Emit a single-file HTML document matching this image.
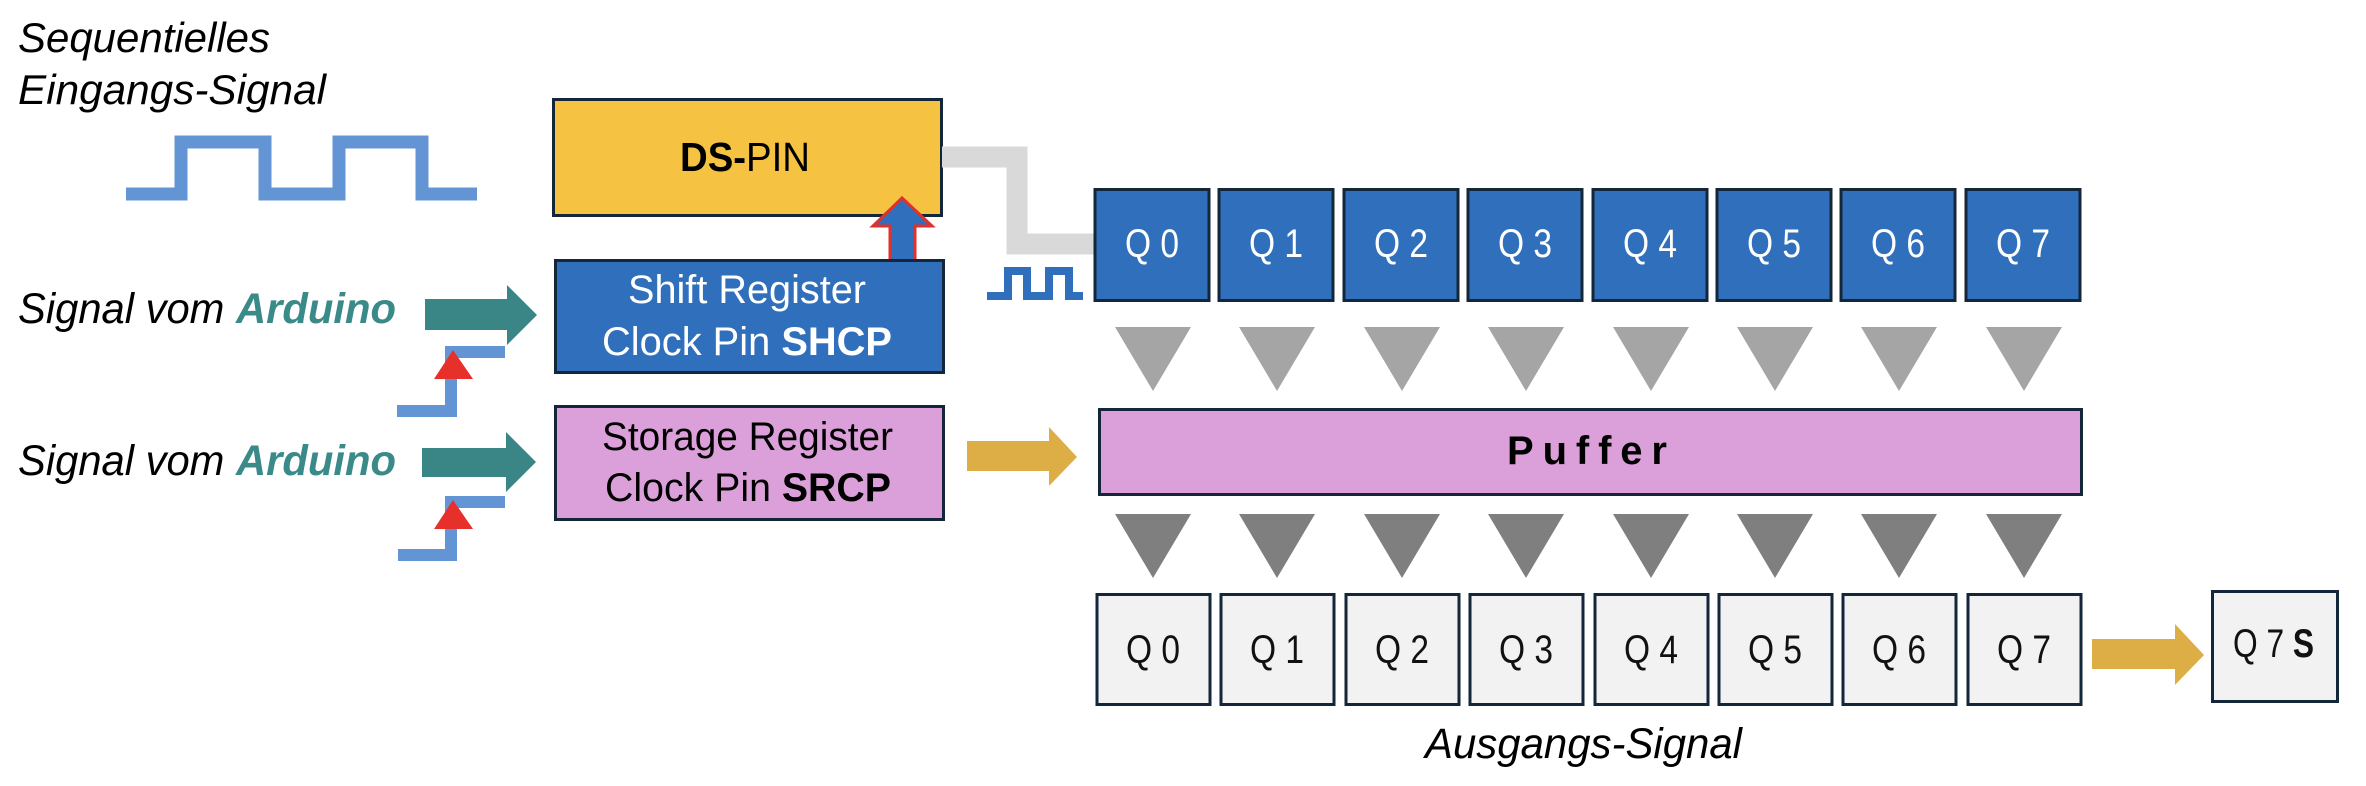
<!DOCTYPE html>
<html><head><meta charset="utf-8"><style>
html,body{margin:0;padding:0;background:#fff;}
svg{display:block;}
text{font-family:"Liberation Sans",sans-serif;}
</style></head><body>
<svg width="2366" height="786" viewBox="0 0 2366 786" xmlns="http://www.w3.org/2000/svg">
<text x="18" y="52" font-size="42" font-style="italic" textLength="252" lengthAdjust="spacingAndGlyphs">Sequentielles</text>
<text x="18" y="104" font-size="42" font-style="italic" textLength="308" lengthAdjust="spacingAndGlyphs">Eingangs-Signal</text>
<polyline points="126,194 181,194 181,142 265,142 265,194 339,194 339,142 422,142 422,194 477,194" fill="none" stroke="#6395d5" stroke-width="13"/>
<rect x="553.5" y="99.5" width="388" height="116" fill="#f5c242" stroke="#14263a" stroke-width="3"/>
<text x="680" y="171" font-size="41" textLength="130" lengthAdjust="spacingAndGlyphs"><tspan font-weight="bold">DS-</tspan>PIN</text>
<polyline points="942,157 1017,157 1017,244 1094,244" fill="none" stroke="#d9d9d9" stroke-width="21"/>
<polyline points="987,296 1008,296 1008,271 1027,271 1027,296 1049,296 1049,271 1069,271 1069,296 1083,296" fill="none" stroke="#2f6fbb" stroke-width="8"/>
<polygon points="902,198 932,226 915,226 915,261 890,261 890,226 873,226" fill="#2f6fbb" stroke="#e2302a" stroke-width="3"/>
<rect x="555.5" y="260.5" width="388" height="112" fill="#2f6fbb" stroke="#14263a" stroke-width="3"/>
<text x="628" y="303" font-size="40" fill="#fff" textLength="238" lengthAdjust="spacingAndGlyphs">Shift Register</text>
<text x="602" y="355" font-size="40" fill="#fff" textLength="290" lengthAdjust="spacingAndGlyphs">Clock Pin <tspan font-weight="bold">SHCP</tspan></text>
<rect x="555.5" y="406.5" width="388" height="113" fill="#dba0da" stroke="#14263a" stroke-width="3"/>
<text x="602" y="450" font-size="40" textLength="291" lengthAdjust="spacingAndGlyphs">Storage Register</text>
<text x="605" y="501" font-size="40" textLength="286" lengthAdjust="spacingAndGlyphs">Clock Pin <tspan font-weight="bold">SRCP</tspan></text>
<text x="18" y="323" font-size="43" font-style="italic" textLength="378" lengthAdjust="spacingAndGlyphs">Signal vom <tspan font-weight="bold" fill="#3a8a8a">Arduino</tspan></text>
<text x="18" y="475" font-size="43" font-style="italic" textLength="378" lengthAdjust="spacingAndGlyphs">Signal vom <tspan font-weight="bold" fill="#3a8a8a">Arduino</tspan></text>
<polygon points="425,299 507,299 507,285 537,315 507,345 507,330 425,330" fill="#3a8585"/>
<polygon points="422,448 506,448 506,432 536,462 506,492 506,477 422,477" fill="#3a8585"/>
<polyline points="397,411 451,411 451,352 505,352" fill="none" stroke="#6395d5" stroke-width="12"/>
<polygon points="453,350 473,379 434,379" fill="#e8302a"/>
<polyline points="398,555 451,555 451,502 505,502" fill="none" stroke="#6395d5" stroke-width="12"/>
<polygon points="453,500 473,529 434,529" fill="#e8302a"/>
<polygon points="967,441 1049,441 1049,427 1077,457 1049,486 1049,471 967,471" fill="#dcae45"/>
<g stroke="#14263a" stroke-width="3" fill="#2f6fbb">
<rect x="1095" y="189.5" width="114" height="111"/>
<rect x="1219" y="189.5" width="114" height="111"/>
<rect x="1344" y="189.5" width="114" height="111"/>
<rect x="1468" y="189.5" width="114" height="111"/>
<rect x="1593" y="189.5" width="114" height="111"/>
<rect x="1717" y="189.5" width="114" height="111"/>
<rect x="1841" y="189.5" width="114" height="111"/>
<rect x="1966" y="189.5" width="114" height="111"/>
</g>
<g font-size="40" fill="#fff">
<text x="1125" y="257" textLength="54" lengthAdjust="spacingAndGlyphs">Q 0</text><text x="1249" y="257" textLength="54" lengthAdjust="spacingAndGlyphs">Q 1</text><text x="1374" y="257" textLength="54" lengthAdjust="spacingAndGlyphs">Q 2</text><text x="1498" y="257" textLength="54" lengthAdjust="spacingAndGlyphs">Q 3</text>
<text x="1623" y="257" textLength="54" lengthAdjust="spacingAndGlyphs">Q 4</text><text x="1747" y="257" textLength="54" lengthAdjust="spacingAndGlyphs">Q 5</text><text x="1871" y="257" textLength="54" lengthAdjust="spacingAndGlyphs">Q 6</text><text x="1996" y="257" textLength="54" lengthAdjust="spacingAndGlyphs">Q 7</text>
</g>
<g fill="#a5a5a5">
<polygon points="1115,327 1191,327 1153,391"/><polygon points="1239,327 1315,327 1277,391"/>
<polygon points="1364,327 1440,327 1402,391"/><polygon points="1488,327 1564,327 1526,391"/>
<polygon points="1613,327 1689,327 1651,391"/><polygon points="1737,327 1813,327 1775,391"/>
<polygon points="1861,327 1937,327 1899,391"/><polygon points="1986,327 2062,327 2024,391"/>
</g>
<rect x="1099.5" y="409.5" width="982" height="85" fill="#dba0da" stroke="#14263a" stroke-width="3"/>
<text x="1507" y="464" font-size="40" font-weight="bold" textLength="160" lengthAdjust="spacing">Puffer</text>
<g fill="#7f7f7f">
<polygon points="1115,514 1191,514 1153,578"/><polygon points="1239,514 1315,514 1277,578"/>
<polygon points="1364,514 1440,514 1402,578"/><polygon points="1488,514 1564,514 1526,578"/>
<polygon points="1613,514 1689,514 1651,578"/><polygon points="1737,514 1813,514 1775,578"/>
<polygon points="1861,514 1937,514 1899,578"/><polygon points="1986,514 2062,514 2024,578"/>
</g>
<g stroke="#14263a" stroke-width="3" fill="#f2f2f2">
<rect x="1097" y="594.5" width="113" height="110"/>
<rect x="1221" y="594.5" width="113" height="110"/>
<rect x="1346" y="594.5" width="113" height="110"/>
<rect x="1470" y="594.5" width="113" height="110"/>
<rect x="1595" y="594.5" width="113" height="110"/>
<rect x="1719" y="594.5" width="113" height="110"/>
<rect x="1843" y="594.5" width="113" height="110"/>
<rect x="1968" y="594.5" width="113" height="110"/>
</g>
<g font-size="40" fill="#111">
<text x="1126" y="663" textLength="54" lengthAdjust="spacingAndGlyphs">Q 0</text><text x="1250" y="663" textLength="54" lengthAdjust="spacingAndGlyphs">Q 1</text><text x="1375" y="663" textLength="54" lengthAdjust="spacingAndGlyphs">Q 2</text><text x="1499" y="663" textLength="54" lengthAdjust="spacingAndGlyphs">Q 3</text>
<text x="1624" y="663" textLength="54" lengthAdjust="spacingAndGlyphs">Q 4</text><text x="1748" y="663" textLength="54" lengthAdjust="spacingAndGlyphs">Q 5</text><text x="1872" y="663" textLength="54" lengthAdjust="spacingAndGlyphs">Q 6</text><text x="1997" y="663" textLength="54" lengthAdjust="spacingAndGlyphs">Q 7</text>
</g>
<polygon points="2092,639 2175,639 2175,624 2204,655 2175,685 2175,669 2092,669" fill="#dcae45"/>
<rect x="2212.5" y="591.5" width="125" height="110" fill="#f2f2f2" stroke="#14263a" stroke-width="3"/>
<text x="2233" y="657" font-size="40" fill="#111" textLength="81" lengthAdjust="spacingAndGlyphs">Q 7 <tspan font-weight="bold">S</tspan></text>
<text x="1425" y="758" font-size="43" font-style="italic" textLength="317" lengthAdjust="spacingAndGlyphs">Ausgangs-Signal</text>
</svg>
</body></html>
